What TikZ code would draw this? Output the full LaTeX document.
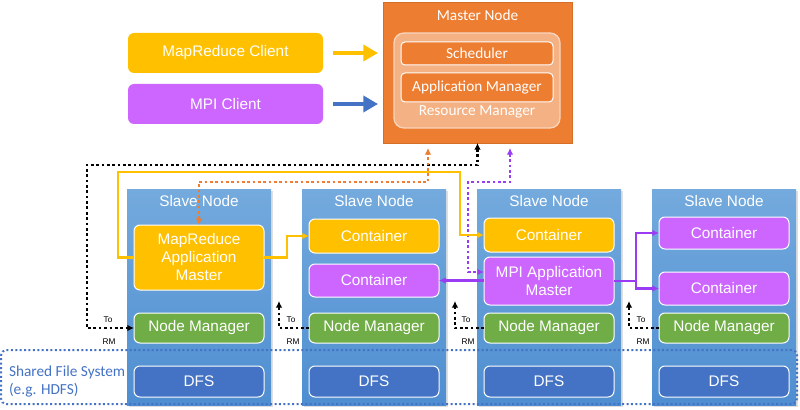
\documentclass[tikz,border=0pt]{standalone}
\usepackage{fontspec}
\setmainfont{Liberation Sans}
\newfontfamily\calibri{Carlito}
\usetikzlibrary{arrows.meta,shadows}
\definecolor{orangeM}{HTML}{ED7D31}
\definecolor{orangeE}{HTML}{D56E26}
\definecolor{rmfill}{HTML}{F4B183}
\definecolor{ylw}{HTML}{FFC000}
\definecolor{purp}{HTML}{CC66FF}
\definecolor{purline}{HTML}{9B3CF5}
\definecolor{grn}{HTML}{70AD47}
\definecolor{dfsblue}{HTML}{4472C4}
\definecolor{slaveT}{HTML}{74AADD}
\definecolor{slaveB}{HTML}{4E8ED1}
\begin{document}
\begin{tikzpicture}[x=0.75pt,y=-0.75pt,
  every node/.style={inner sep=0pt, outer sep=0pt},
  fnt/.style={font=\fontsize{11.5}{13.5}\selectfont},
  cfnt/.style={font=\calibri\fontsize{11.5}{13.5}\selectfont},
  slave/.style={rectangle, minimum width=108pt, minimum height=162pt, top color=slaveT, bottom color=slaveB, draw=none,
    drop shadow={shadow xshift=1.2pt, shadow yshift=-1.2pt, opacity=0.25}},
  ttl/.style={fnt, text=white},
  inbox/.style={rectangle, rounded corners=4.5pt, draw=white, line width=0.75pt, minimum width=97.5pt, text=white, fnt, align=center},
  ylwbox/.style={inbox, fill=ylw},
  purbox/.style={inbox, fill=purp},
  grnbox/.style={inbox, fill=grn},
  dfsbox/.style={inbox, fill=dfsblue},
  clientbox/.style={rectangle, rounded corners=4.5pt, minimum width=146.25pt, minimum height=30pt, text=white, fnt},
  mbox/.style={rectangle, rounded corners=3pt, fill=orangeM, draw=white, line width=0.75pt, minimum width=114pt, text=white, cfnt},
  bigarrow/.style={line width=3.5pt, -{Triangle[length=11pt,width=12pt]}},
  blkdot/.style={line width=2pt, dash pattern=on 2pt off 2pt, black},
  orgdot/.style={line width=2pt, dash pattern=on 2pt off 2pt, orangeM},
  purdot/.style={line width=2pt, dash pattern=on 2pt off 2pt, purline},
  ylwline/.style={line width=1.6pt, ylw},
  purln/.style={line width=1.6pt, purline},
  tip/.style={-{Latex[length=5pt,width=5pt]}},
  tips/.style={{Latex[length=5pt,width=5pt]}-{Latex[length=5pt,width=5pt]}},
  small/.style={font=\fontsize{6.2}{7}\selectfont, text=black}
]
\useasboundingbox (0,0) rectangle (800,410);

% Master node
\node[rectangle, fill=orangeM, draw=orangeE, line width=0.5pt, minimum width=141.75pt, minimum height=105.75pt] (master) at (477.5,72.5) {};
\node[cfnt, text=white] (mastert) at (477.5,15) {Master Node};
\node[rectangle, rounded corners=7.5pt, fill=rmfill, draw=white!45!rmfill, line width=1pt, minimum width=124.5pt, minimum height=71.25pt] (rm) at (477,80.5) {};
\node[mbox, minimum height=17.25pt] (sched) at (477,53.5) {Scheduler};
\node[mbox, minimum height=21.75pt] (appm) at (477,87.5) {Application Manager};
\node[cfnt, text=white] (rmt) at (477,112) {Resource Manager};

% Clients
\node[clientbox, fill=ylw] (mrc) at (225.5,53) {MapReduce Client};
\node[clientbox, fill=purp] (mpic) at (225.5,104) {MPI Client};
\draw[bigarrow, ylw] ([xshift=7.5pt]mrc.east) -- ([xshift=-3.75pt]master.west |- mrc.east);
\draw[bigarrow, dfsblue] ([xshift=7.5pt]mpic.east) -- ([xshift=-3.75pt]master.west |- mpic.east);

% Slave nodes
\foreach \i/\x in {1/199,2/374,3/549,4/724}{
  \node[slave] (s\i) at (\x,297) {};
  \node[ttl] (s\i t) at (\x,201) {Slave Node};
  \node[grnbox, minimum height=22.5pt] (nm\i) at (\x,328) {Node Manager};
  \node[dfsbox, minimum height=23.25pt] (dfs\i) at (\x,381.5) {DFS};
}
\node[ylwbox, minimum height=48.75pt] (mram) at (199,257.5) {MapReduce\\Application\\Master};
\node[ylwbox, minimum height=25.5pt] (c2y) at (374,236) {Container};
\node[purbox, minimum height=24.75pt] (c2p) at (374,280.5) {Container};
\node[ylwbox, minimum height=25.5pt] (c3y) at (549,235) {Container};
\node[purbox, minimum height=36pt] (mpiam) at (549,281) {MPI Application\\Master};
\node[purbox, minimum height=24pt] (c4a) at (724,233) {Container};
\node[purbox, minimum height=24.75pt] (c4b) at (724,288.5) {Container};

% Shared file system
\node[rectangle, rounded corners=4pt, draw=dfsblue, line width=1.5pt, dash pattern=on 1.5pt off 1.8pt, minimum width=597pt, minimum height=40.5pt] (fs) at (399,377) {};
\node[cfnt, text=dfsblue, align=left, anchor=west] (fst) at (9,381) {Shared File System\\(e.g. HDFS)};

% Coordinates for free ends
\coordinate (oT) at (428,148);
\coordinate (pT) at (510,148);

% Black dotted: RM <-> NM1
\draw[blkdot, tips] (master.south) |- (87,165) |- (nm1.west);
\node[small] (to1) at (108,320) {To};
\node[small] (rm1) at (109,342) {RM};

% Stubs To RM
\draw[blkdot, tip] (nm2.west) -- (279,328) -- (279,301);
\node[small] (to2) at (291,320) {To};
\node[small] (rm2) at (293,342) {RM};
\draw[blkdot, tip] (nm3.west) -- (455,328) -- (455,301);
\node[small] (to3) at (466,320) {To};
\node[small] (rm3) at (468,342) {RM};
\draw[blkdot, tip] (nm4.west) -- (629,328) -- (629,301);
\node[small] (to4) at (641,320) {To};
\node[small] (rm4) at (643,342) {RM};

% Orange dotted
\draw[orgdot, tips] (mram.north) |- (428,182) -- (oT);

% Purple dotted
\draw[purdot, tips] (pT) |- (468,182) |- ([yshift=6.75pt]mpiam.west);

% Yellow solid
\draw[ylwline, tip] (mram.west) -- (118,257.5) |- (460,172) |- (c3y.west);
\draw[ylwline, tip] (mram.east) -- (287,257.5) |- (c2y.west);

% Purple solid
\draw[purln, tip] (mpiam.west |- c2p.east) -- (c2p.east);
\draw[purln, tip] (mpiam.east) -- (636,281) |- (c4a.west);
\draw[purln, tip] (636,281) |- (c4b.west);
\end{tikzpicture}
\end{document}
